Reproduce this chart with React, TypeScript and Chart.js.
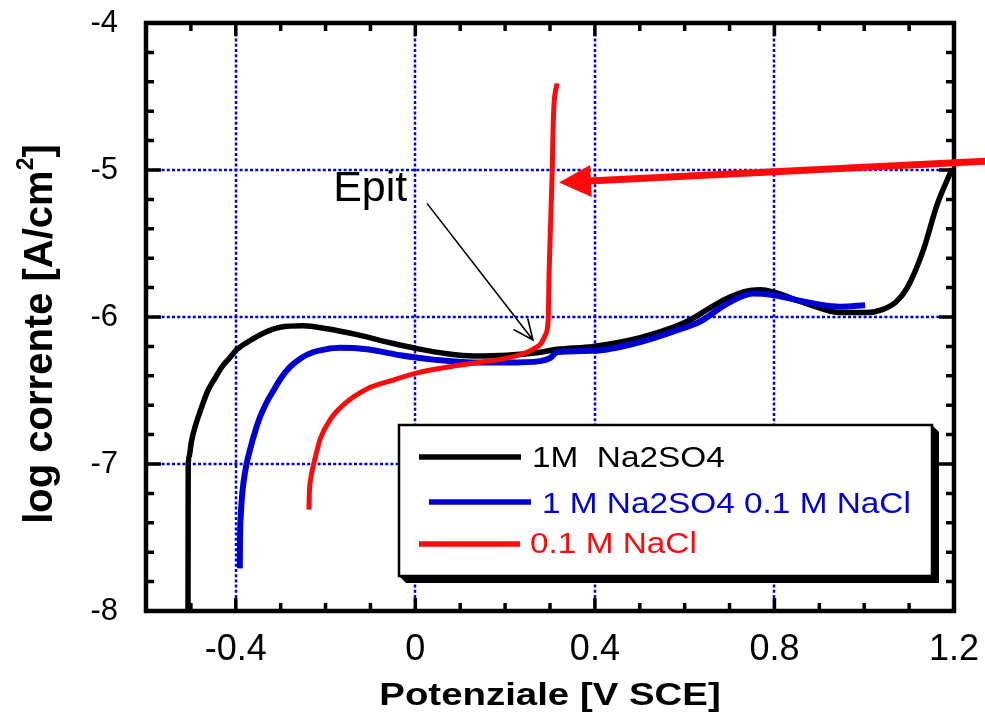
import React, { useEffect, useRef } from 'react';
import { Chart, registerables } from 'chart.js';

Chart.register(...registerables);

const FONT = '"Liberation Sans", Arial, Helvetica, sans-serif';

const xMin = -0.6;
const xMax = 1.2;
const yMin = -8;
const yMax = -4;
const xTickValues = [-0.4, 0, 0.4, 0.8, 1.2];
const yTickValues = [-8, -7, -6, -5, -4];

const xTitle = 'Potenziale [V SCE]';
const yTitleMain = 'log corrente [A/cm';
const yTitleSup = '2';
const yTitleEnd = ']';

const seriesLabels = ['1M  Na2SO4', '1 M Na2SO4 0.1 M NaCl', '0.1 M NaCl'];
const seriesColors = ['#000000', '#0000d2', '#ff0a0a'];

const na2so4X = [-0.5064, -0.5062, -0.5060, -0.5040, -0.4990, -0.4900, -0.4780, -0.4620, -0.4470, -0.4310, -0.4140, -0.3970, -0.3680, -0.3390, -0.3010, -0.2500, -0.1970, -0.1300, -0.0560, 0.0040, 0.0710, 0.1290, 0.2040, 0.2780, 0.3160, 0.3960, 0.5010, 0.5740, 0.6120, 0.6500, 0.6860, 0.7200, 0.7460, 0.7700, 0.7970, 0.8730, 0.9470, 1.0070, 1.0400, 1.0700, 1.0960, 1.1310, 1.1630, 1.1960];
const na2so4Y = [-8.00, -7.40, -7.02, -6.95, -6.85, -6.74, -6.63, -6.50, -6.42, -6.34, -6.28, -6.22, -6.16, -6.11, -6.07, -6.06, -6.08, -6.12, -6.175, -6.215, -6.25, -6.265, -6.26, -6.24, -6.22, -6.20, -6.14, -6.07, -6.02, -5.95, -5.885, -5.84, -5.82, -5.815, -5.83, -5.91, -5.97, -5.97, -5.95, -5.90, -5.80, -5.55, -5.23, -4.99];

const mixX = [-0.391, -0.3905, -0.389, -0.386, -0.383, -0.376, -0.368, -0.357, -0.346, -0.331, -0.316, -0.298, -0.279, -0.255, -0.228, -0.200, -0.168, -0.108, -0.034, 0.040, 0.129, 0.204, 0.278, 0.300, 0.316, 0.396, 0.501, 0.574, 0.635, 0.694, 0.752, 0.797, 0.873, 0.947, 1.002];
const mixY = [-7.71, -7.50, -7.36, -7.22, -7.13, -7.00, -6.90, -6.78, -6.68, -6.58, -6.50, -6.41, -6.34, -6.28, -6.24, -6.22, -6.21, -6.22, -6.26, -6.29, -6.31, -6.31, -6.30, -6.28, -6.24, -6.23, -6.17, -6.10, -6.03, -5.91, -5.84, -5.85, -5.90, -5.93, -5.92];

const naclX = [-0.237, -0.236, -0.233, -0.228, -0.220, -0.212, -0.190, -0.161, -0.108, -0.050, 0.004, 0.093, 0.204, 0.240, 0.262, 0.280, 0.290, 0.296, 0.298, 0.302, 0.305, 0.307, 0.309, 0.316];
const naclY = [-7.31, -7.19, -7.10, -7.02, -6.92, -6.83, -6.70, -6.60, -6.49, -6.43, -6.38, -6.33, -6.28, -6.25, -6.22, -6.18, -6.12, -6.02, -5.70, -5.30, -5.00, -4.70, -4.55, -4.41];

// annotations (data coordinates)
const epitLabel = 'Epit';
const epitTextPos = { x: -0.183, y: -5.211 };
const epitArrowFrom = { x: 0.026, y: -5.227 };
const epitArrowTo = { x: 0.262, y: -6.156 };
const redArrowTail = { x: 1.27, y: -4.94 };
const redArrowTip = { x: 0.32, y: -5.085 };

function toPoints(xs: number[], ys: number[]) {
  return xs.map((x, i) => ({ x, y: ys[i] }));
}

function stretchedText(ctx: CanvasRenderingContext2D, text: string, x: number, y: number, font: string, color: string, sx: number, align: 'left' | 'center') {
  ctx.save();
  ctx.font = font;
  ctx.fillStyle = color;
  ctx.textBaseline = 'alphabetic';
  ctx.textAlign = 'left';
  const w = ctx.measureText(text).width * sx;
  const left = align === 'center' ? x - w / 2 : x;
  ctx.translate(left, y);
  ctx.scale(sx, 1);
  ctx.fillText(text, 0, 0);
  ctx.restore();
}

const decorPlugin = {
  id: 'decor',
  beforeDatasetsDraw(chart: any) {
    const { ctx, chartArea: ca, scales } = chart;
    const xs = scales.x;
    const ys = scales.y;
    ctx.save();
    ctx.strokeStyle = '#0000e6';
    ctx.lineWidth = 2.5;
    ctx.setLineDash([3, 2.2]);
    for (const v of xTickValues) {
      if (v <= xMin || v >= xMax) continue;
      const px = Math.round(xs.getPixelForValue(v));
      ctx.beginPath();
      ctx.moveTo(px, ca.top);
      ctx.lineTo(px, ca.bottom);
      ctx.stroke();
    }
    for (const v of yTickValues) {
      if (v <= yMin || v >= yMax) continue;
      const py = Math.round(ys.getPixelForValue(v));
      ctx.beginPath();
      ctx.moveTo(ca.left, py);
      ctx.lineTo(ca.right, py);
      ctx.stroke();
    }
    ctx.restore();
  },
  afterDatasetsDraw(chart: any) {
    const { ctx, chartArea: ca, scales } = chart;
    const xs = scales.x;
    const ys = scales.y;
    ctx.save();
    ctx.strokeStyle = '#000';
    ctx.lineCap = 'butt';
    ctx.lineWidth = 3.5;
    for (let i = -5; i <= 11; i++) {
      const v = i / 10;
      const major = i % 4 === 0;
      const len = major ? 13 : 8;
      const px = xs.getPixelForValue(v);
      ctx.beginPath();
      ctx.moveTo(px, ca.bottom);
      ctx.lineTo(px, ca.bottom - len);
      ctx.moveTo(px, ca.top);
      ctx.lineTo(px, ca.top + len);
      ctx.stroke();
    }
    for (let k = 1; k <= 19; k++) {
      const v = yMin + k * 0.2;
      const major = k % 5 === 0;
      const len = major ? 15 : 8;
      const py = ys.getPixelForValue(v);
      ctx.beginPath();
      ctx.moveTo(ca.left, py);
      ctx.lineTo(ca.left + len, py);
      ctx.moveTo(ca.right, py);
      ctx.lineTo(ca.right - len, py);
      ctx.stroke();
    }
    ctx.lineWidth = 4.5;
    ctx.strokeRect(ca.left, ca.top, ca.right - ca.left, ca.bottom - ca.top);
    ctx.restore();

    // Epit annotation
    ctx.save();
    const ex = xs.getPixelForValue(epitTextPos.x);
    const ey = ys.getPixelForValue(epitTextPos.y);
    ctx.font = `43px ${FONT}`;
    ctx.fillStyle = '#000';
    ctx.textBaseline = 'alphabetic';
    ctx.fillText(epitLabel, ex, ey);
    const ax0 = xs.getPixelForValue(epitArrowFrom.x);
    const ay0 = ys.getPixelForValue(epitArrowFrom.y);
    const ax1 = xs.getPixelForValue(epitArrowTo.x);
    const ay1 = ys.getPixelForValue(epitArrowTo.y);
    ctx.strokeStyle = '#000';
    ctx.lineWidth = 1.6;
    ctx.beginPath();
    ctx.moveTo(ax0, ay0);
    ctx.lineTo(ax1, ay1);
    const ang = Math.atan2(ay0 - ay1, ax0 - ax1);
    const hl = 22;
    const spread = 0.42;
    ctx.moveTo(ax1 + hl * Math.cos(ang + spread), ay1 + hl * Math.sin(ang + spread));
    ctx.lineTo(ax1, ay1);
    ctx.lineTo(ax1 + hl * Math.cos(ang - spread), ay1 + hl * Math.sin(ang - spread));
    ctx.stroke();
    ctx.restore();

    // Red arrow
    ctx.save();
    const tx = xs.getPixelForValue(redArrowTip.x);
    const ty = ys.getPixelForValue(redArrowTip.y);
    const sx = xs.getPixelForValue(redArrowTail.x);
    const sy = ys.getPixelForValue(redArrowTail.y);
    const dx = sx - tx;
    const dy = sy - ty;
    const dl = Math.hypot(dx, dy);
    const ux = dx / dl;
    const uy = dy / dl;
    const headLen = 32;
    const headHalf = 16;
    const bx = tx + ux * headLen;
    const by = ty + uy * headLen;
    ctx.strokeStyle = '#ff0a0a';
    ctx.fillStyle = '#ff0a0a';
    ctx.lineWidth = 7;
    ctx.beginPath();
    ctx.moveTo(bx - ux * 2, by - uy * 2);
    ctx.lineTo(sx, sy);
    ctx.stroke();
    ctx.beginPath();
    ctx.moveTo(tx, ty);
    ctx.lineTo(bx - uy * headHalf, by + ux * headHalf);
    ctx.lineTo(bx + uy * headHalf, by - ux * headHalf);
    ctx.closePath();
    ctx.fill();
    ctx.restore();

    // Legend box
    ctx.save();
    const L = ca.left + 253;
    const T = ca.top + 402;
    const W = 533;
    const H = 151;
    const s = 7;
    ctx.fillStyle = '#000';
    ctx.beginPath();
    ctx.moveTo(L, T + H);
    ctx.lineTo(L + s, T + H + s);
    ctx.lineTo(L + W + s, T + H + s);
    ctx.lineTo(L + W + s, T + s);
    ctx.lineTo(L + W, T);
    ctx.closePath();
    ctx.fill();
    ctx.fillStyle = '#fff';
    ctx.fillRect(L, T, W, H);
    ctx.strokeStyle = '#000';
    ctx.lineWidth = 2.5;
    ctx.strokeRect(L, T, W, H);
    const rows = [
      { lineY: 32, x0: 20, x1: 122, tx: 133, base: 42 },
      { lineY: 77, x0: 30, x1: 132, tx: 143, base: 88 },
      { lineY: 119, x0: 20, x1: 121, tx: 131, base: 128 },
    ];
    rows.forEach((r, i) => {
      ctx.strokeStyle = seriesColors[i];
      ctx.lineWidth = 5.5;
      ctx.beginPath();
      ctx.moveTo(L + r.x0, T + r.lineY);
      ctx.lineTo(L + r.x1, T + r.lineY);
      ctx.stroke();
      stretchedText(ctx, seriesLabels[i], L + r.tx, T + r.base, `29px ${FONT}`, seriesColors[i], 1.15, 'left');
    });
    ctx.restore();
  },
  afterDraw(chart: any) {
    const { ctx, chartArea: ca } = chart;
    stretchedText(ctx, xTitle, (ca.left + ca.right) / 2, 705, `bold 32px ${FONT}`, '#000', 1.2, 'center');
    ctx.save();
    ctx.translate(52, 334);
    ctx.rotate(-Math.PI / 2);
    ctx.fillStyle = '#000';
    ctx.textBaseline = 'alphabetic';
    const mainFont = `bold 40px ${FONT}`;
    const supFont = `bold 23px ${FONT}`;
    ctx.font = mainFont;
    const w1 = ctx.measureText(yTitleMain).width;
    const w3 = ctx.measureText(yTitleEnd).width;
    ctx.font = supFont;
    const w2 = ctx.measureText(yTitleSup).width;
    const total = w1 + w2 + w3;
    let cx = -total / 2;
    ctx.font = mainFont;
    ctx.fillText(yTitleMain, cx, 0);
    cx += w1;
    ctx.font = supFont;
    ctx.fillText(yTitleSup, cx, -19);
    cx += w2;
    ctx.font = mainFont;
    ctx.fillText(yTitleEnd, cx, 0);
    ctx.restore();
  },
};

export default function App() {
  const canvasRef = useRef<HTMLCanvasElement | null>(null);

  useEffect(() => {
    const canvas = canvasRef.current;
    if (!canvas) return;
    const common = {
      pointRadius: 0,
      cubicInterpolationMode: 'monotone' as const,
      fill: false,
      borderJoinStyle: 'round' as const,
      borderCapStyle: 'butt' as const,
    };
    const chart = new Chart(canvas, {
      type: 'line',
      data: {
        datasets: [
          { ...common, label: seriesLabels[0], data: toPoints(na2so4X, na2so4Y), borderColor: seriesColors[0], borderWidth: 5.5, order: 3 },
          { ...common, label: seriesLabels[1], data: toPoints(mixX, mixY), borderColor: seriesColors[1], borderWidth: 6, order: 2 },
          { ...common, label: seriesLabels[2], data: toPoints(naclX, naclY), borderColor: seriesColors[2], borderWidth: 5, order: 1 },
        ],
      },
      options: {
        responsive: false,
        animation: false,
        events: [],
        layout: { padding: { top: 23, right: 31, left: 0, bottom: 0 } },
        plugins: {
          legend: { display: false },
          tooltip: { enabled: false },
          title: { display: false },
        },
        scales: {
          x: {
            type: 'linear',
            min: xMin,
            max: xMax,
            grid: { display: false, drawTicks: false },
            border: { display: false },
            afterBuildTicks: (scale: any) => {
              scale.ticks = xTickValues.map((v) => ({ value: v }));
            },
            afterFit: (scale: any) => {
              scale.height = 103;
              scale.paddingLeft = 0;
              scale.paddingRight = 0;
            },
            ticks: {
              autoSkip: false,
              maxRotation: 0,
              padding: 17,
              color: '#000',
              font: { family: FONT, size: 36 },
              callback: (v: any) => String(Math.round(Number(v) * 10) / 10),
            },
          },
          y: {
            type: 'linear',
            min: yMin,
            max: yMax,
            grid: { display: false, drawTicks: false },
            border: { display: false },
            afterBuildTicks: (scale: any) => {
              scale.ticks = yTickValues.map((v) => ({ value: v }));
            },
            afterFit: (scale: any) => {
              scale.width = 146;
              scale.paddingTop = 0;
              scale.paddingBottom = 0;
            },
            ticks: {
              autoSkip: false,
              padding: 28,
              color: '#000',
              font: { family: FONT, size: 31 },
              callback: (v: any) => String(Math.round(Number(v))),
            },
          },
        },
      },
      plugins: [decorPlugin],
    });
    return () => chart.destroy();
  }, []);

  return (
    <div style={{ position: 'absolute', left: 0, top: 0, width: 985, height: 714, background: '#fff' }}>
      <canvas ref={canvasRef} width={985} height={714} style={{ display: 'block', width: 985, height: 714 }} />
    </div>
  );
}
